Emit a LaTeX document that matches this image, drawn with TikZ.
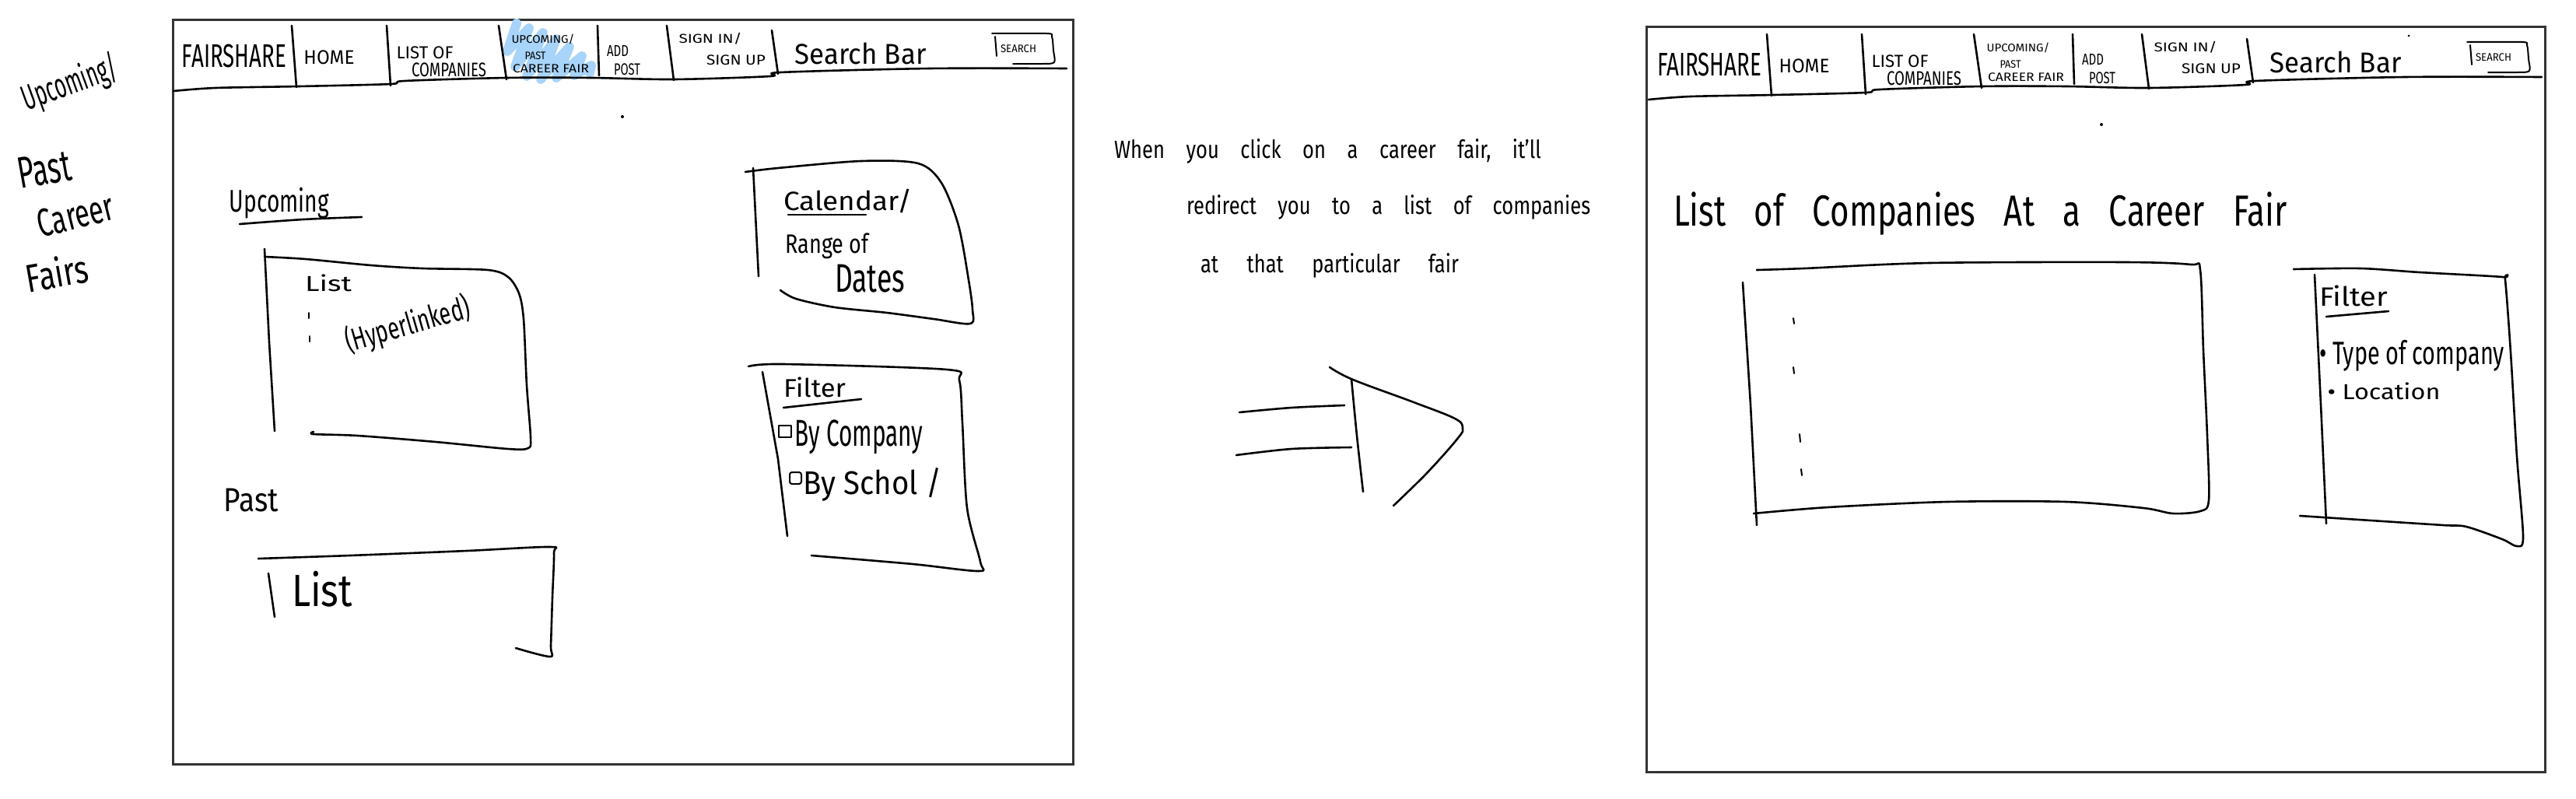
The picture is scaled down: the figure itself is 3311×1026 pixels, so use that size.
\documentclass[tikz,border=0pt]{standalone}
\usepackage{fontspec}
\setmainfont{Fira Sans}
\usepackage{graphicx}
\newcommand\hw[3]{\resizebox*{#1pt}{#2pt}{#3}}
\definecolor{hilite}{RGB}{168,212,250}
\newcommand\navbar[1]{%
  \draw[pen] (375,33) -- (381,112);
  \draw[pen] (497,33) -- (502,110);
  \draw[pen] (641,33) -- (651,102);
  \draw[pen] (768,33) -- (770,97);
  \draw[pen] (857,33) -- (866,103);
  \draw[pen] (992,39) -- (1000,95);
  \draw[pen] plot[smooth,tension=0.5] coordinates {(223,117) (277,113) (384,111) (502,108) (520,104) (651,100) (760,100) (866,102) (990,98) (1003,93) (1195,88) (1371,88)};
  \node[lbl] (#1fair) at (301,72) {\hw{134}{30}{FAIRSHARE}};
  \node[lbl] (#1home) at (423,74) {\hw{65}{18}{HOME}};
  \node[lbl] (#1listof) at (546,68) {\hw{73}{16}{LIST OF}};
  \node[lbl] (#1comp) at (577,90) {\hw{96}{18}{COMPANIES}};
  \node[lbl] (#1upc) at (698,50) {\hw{81}{13}{UPCOMING/}};
  \node[lbl] (#1past) at (688,72) {\hw{27}{10}{PAST}};
  \node[lbl] (#1cf) at (708,88) {\hw{98}{11}{CAREER FAIR}};
  \node[lbl] (#1add) at (794,65) {\hw{28}{14}{ADD}};
  \node[lbl] (#1post) at (806,89) {\hw{34}{15}{POST}};
  \node[lbl] (#1signin) at (913,50) {\hw{81}{15}{SIGN IN/}};
  \node[lbl] (#1signup) at (946,77) {\hw{76}{13}{SIGN UP}};
  \node[lbl] (#1sbar) at (1106,69) {\hw{169}{28}{Search Bar}};
  \node[lbl] (#1sbtn) at (1309,63) {\hw{46}{10}{SEARCH}};
  \draw[thinpen] (1279,47) -- (1281,72);
  \draw[thinpen] plot[smooth,tension=0.5] coordinates {(1275,43) (1345,43) (1352,47) (1354,65) (1355,80) (1340,82) (1302,82)};
}
\begin{document}
\begin{tikzpicture}[x=1pt,y=-1pt,
  pen/.style={line width=2.6pt,line cap=round,line join=round},
  thinpen/.style={line width=2pt,line cap=round,line join=round},
  framebox/.style={line width=3pt,draw=black!80},
  lbl/.style={inner sep=0pt,outer sep=0pt,anchor=center},
  para/.style={inner sep=0pt,outer sep=0pt,anchor=base west},
  hl/.style={line width=12pt,draw=hilite,line cap=round,line join=round}]
\fill[white] (0,0) rectangle (3311,1026);
\useasboundingbox (0,0) rectangle (3311,1026);

% ---------- left annotation ----------
\node[lbl,rotate=20] (aUpc) at (90,108) {\hw{128}{46}{Upcoming/}};
\node[lbl,rotate=10] (aPast) at (57,218) {\hw{68}{40}{Past}};
\node[lbl,rotate=14] (aCareer) at (97,277) {\hw{100}{36}{Career}};
\node[lbl,rotate=10] (aFairs) at (73,350) {\hw{80}{40}{Fairs}};

% ---------- frame 1 ----------
\draw[framebox] (222,25) rectangle (1379,982);
\draw[hl] (664,30) -- (652,66) -- (680,36) -- (662,86) -- (698,42) -- (677,98) -- (715,50) -- (695,102) -- (732,60) -- (715,100) -- (748,72) -- (738,97) -- (760,84) -- (758,93);
\navbar{a}
\fill (800,150) circle (2);

\node[lbl] (upcT) at (359,261) {\hw{128}{40}{Upcoming}};
\draw[pen] plot[smooth] coordinates {(308,288) (390,282) (465,279)};
\draw[pen] (340,320) -- (346,440) -- (353,554);
\draw[pen] plot[smooth,tension=0.5] coordinates {(340,330) (393,333) (477,341) (543,345) (627,347) (653,356) (667,377) (673,410) (677,495) (682,562) (679,576) (653,577) (560,568) (460,560) (403,558) (403,555)};
\node[lbl] (upcList) at (422,364) {\hw{60}{22}{List}};
\draw[thinpen] (397,402) -- (397,409);
\draw[thinpen] (398,432) -- (398,439);
\node[lbl,rotate=16] (hyp) at (524,418) {\hw{165}{42}{(Hyperlinked)}};

\node[lbl] (pastT) at (323,643) {\hw{70}{30}{Past}};
\draw[pen] plot[smooth,tension=0.5] coordinates {(332,718) (450,714) (600,708) (707,703) (712,711) (710,768) (708,830) (707,844) (663,833)};
\draw[pen] (345,737) -- (353,793);
\node[lbl] (pastList) at (414,757) {\hw{78}{46}{List}};

\draw[pen] (968,216) -- (975,355);
\draw[pen] plot[smooth,tension=0.5] coordinates {(958,221) (1000,216) (1107,207) (1180,210) (1210,235) (1232,290) (1245,360) (1250,398) (1247,416) (1200,410) (1140,402) (1073,395) (1023,384) (1003,373)};
\node[lbl] (cal) at (1090,259) {\hw{166}{31}{Calendar/}};
\draw[pen] (1013,276) -- (1113,276);
\node[lbl] (range) at (1063,316) {\hw{107}{33}{Range of}};
\node[lbl] (dates) at (1118,358) {\hw{90}{36}{Dates}};

\draw[pen] plot[smooth,tension=0.5] coordinates {(962,471) (1007,468) (1217,475) (1233,489) (1237,544) (1243,653) (1260,722) (1258,734) (1173,725) (1043,714)};
\draw[pen] (980,478) -- (1000,590) -- (1012,689);
\node[lbl] (filt1) at (1047,498) {\hw{80}{26}{Filter}};
\draw[pen] (1007,524) -- (1107,513);
\draw[thinpen] (1001,547) rectangle (1017,562);
\node[lbl] (byc) at (1104,562) {\hw{165}{44}{By Company}};
\draw[thinpen,rounded corners=3pt] (1015,607) rectangle (1030,622);
\node[lbl] (bys) at (1121,623) {\hw{178}{43}{By Schol /}};

% ---------- middle text and arrow ----------
\node[para] (t1) at (1432,203) {\fontsize{32}{34}\selectfont\scalebox{0.8}[1]{\hbox to 686pt{When\hfill you\hfill click\hfill on\hfill a\hfill career\hfill fair,\hfill it'll}}};
\node[para] (t2) at (1525,275) {\fontsize{32}{34}\selectfont\scalebox{0.8}[1]{\hbox to 649pt{redirect\hfill you\hfill to\hfill a\hfill list\hfill of\hfill companies}}};
\node[para] (t3) at (1543,350) {\fontsize{32}{34}\selectfont\scalebox{0.8}[1]{\hbox to 415pt{at\hfill that\hfill particular\hfill fair}}};

\draw[pen] plot[smooth] coordinates {(1593,530) (1660,524) (1728,521)};
\draw[pen] plot[smooth] coordinates {(1589,585) (1660,577) (1737,575)};
\draw[pen] plot[smooth] coordinates {(1737,487) (1744,560) (1752,632)};
\draw[pen] plot[smooth,tension=0.6] coordinates {(1709,472) (1739,488) (1817,517) (1870,538) (1880,550) (1874,563) (1835,607) (1791,650)};

% ---------- frame 2 ----------
\draw[framebox] (2116,34) rectangle (3271,992);
\begin{scope}[shift={(1896,11)}]
\navbar{b}
\end{scope}
\fill (2701,160) circle (2);
\fill (3096,46) circle (1.5);

\node[para] (title2) at (2151,290) {\fontsize{56}{60}\selectfont\scalebox{0.75}[1]{\hbox to 1051pt{List\hfill of\hfill Companies\hfill At\hfill a\hfill Career\hfill Fair}}};

\draw[pen] plot[smooth,tension=0.5] coordinates {(2258,347) (2319,345) (2480,338) (2732,337) (2816,340) (2828,347) (2832,450) (2837,560) (2839,643) (2828,657) (2793,660) (2755,653) (2656,645) (2503,645) (2350,652) (2254,660)};
\draw[pen] (2240,363) -- (2250,520) -- (2258,675);
\draw[thinpen] (2305,409) -- (2306,416);
\draw[thinpen] (2305,472) -- (2306,480);
\draw[thinpen] (2313,558) -- (2314,568);
\draw[thinpen] (2315,603) -- (2316,611);

\draw[pen] plot[smooth,tension=0.5] coordinates {(2948,346) (3034,345) (3110,350) (3216,356) (3220,360) (3227,453) (3235,587) (3243,690) (3235,702) (3216,693) (3170,677) (3140,675) (3032,668) (2956,663)};
\draw[pen] (2975,353) -- (2983,520) -- (2990,673);
\node[lbl] (filt2) at (3025,380) {\hw{88}{27}{Filter}};
\draw[pen] (2990,407) -- (3070,400);
\node[lbl] (type) at (3100,457) {\hw{238}{40}{• Type of company}};
\node[lbl] (loc) at (3064,503) {\hw{145}{22}{• Location}};
\end{tikzpicture}
\end{document}
